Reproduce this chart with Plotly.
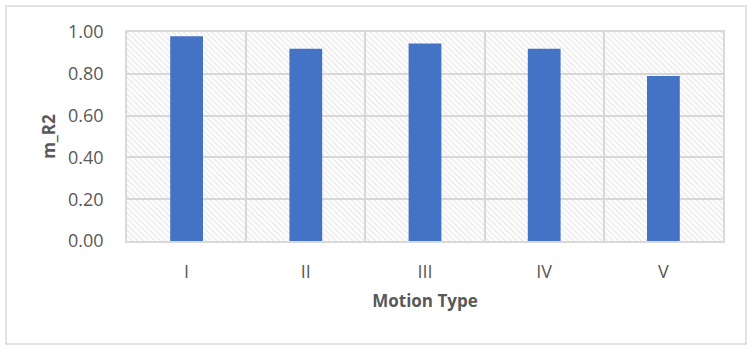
import plotly.graph_objects as go

categories = ["I", "II", "III", "IV", "V"]
m_r2 = [0.98, 0.92, 0.945, 0.92, 0.79]
y_ticks = [0.0, 0.2, 0.4, 0.6, 0.8, 1.0]

positions = list(range(len(categories)))
boundaries = [p - 0.5 for p in positions] + [positions[-1] + 0.5]
full_span = len(categories)
center = (positions[0] + positions[-1]) / 2

fig = go.Figure()

# hatched plot background
fig.add_trace(go.Bar(
    x=[center], y=[max(y_ticks)], width=[full_span],
    marker=dict(color="rgba(0,0,0,0)", line=dict(width=0),
                pattern=dict(shape="\\", fgcolor="#cfcfcf", bgcolor="rgba(0,0,0,0)",
                             size=4, solidity=0.3)),
    hoverinfo="skip", showlegend=False,
))

fig.add_trace(go.Bar(
    x=positions, y=m_r2, width=0.275,
    marker=dict(color="#4472C4", line=dict(width=0)),
    showlegend=False, hovertext=categories,
))

font_main = "Open Sans, Liberation Sans, sans-serif"

fig.update_layout(
    width=752, height=347,
    margin=dict(l=127, r=29, t=32, b=106),
    paper_bgcolor="white", plot_bgcolor="white",
    font=dict(family=font_main, color="#595959", size=16),
    barmode="overlay",
    xaxis=dict(
        range=[boundaries[0], boundaries[-1]],
        tickvals=positions, ticktext=categories,
        showgrid=False, zeroline=False,
        minor=dict(tickvals=boundaries, showgrid=True, gridcolor="#d9d9d9", gridwidth=1.5, ticks=""),
        showline=True, linecolor="#d9d9d9", linewidth=1.5, mirror=True,
        ticks="outside", ticklen=14, tickcolor="rgba(0,0,0,0)",
        tickfont=dict(size=18, color="#595959"),
        title=dict(text="<b>Motion Type</b>", font=dict(size=17, color="#595959"), standoff=13),
    ),
    yaxis=dict(
        range=[0, 1.0], tickvals=y_ticks, tickformat=".2f",
        showgrid=True, gridcolor="#d9d9d9", gridwidth=1.5,
        showline=True, linecolor="#d9d9d9", linewidth=1.5, mirror=True,
        zeroline=False, ticks="outside", ticklen=18, tickcolor="rgba(0,0,0,0)",
        tickfont=dict(size=18, color="#595959"),
        title=dict(text="<b>m_R2</b>", font=dict(size=17, color="#595959"), standoff=8),
    ),
    shapes=[dict(type="rect", xref="paper", yref="paper",
                 x0=-0.203, x1=1.0386, y0=-0.493, y1=1.124,
                 line=dict(color="#d9d9d9", width=1.5), fillcolor="rgba(0,0,0,0)", layer="below")],
)

fig.write_html("out.html", config={"displayModeBar": False},
               post_script="document.body.style.margin='0';")
